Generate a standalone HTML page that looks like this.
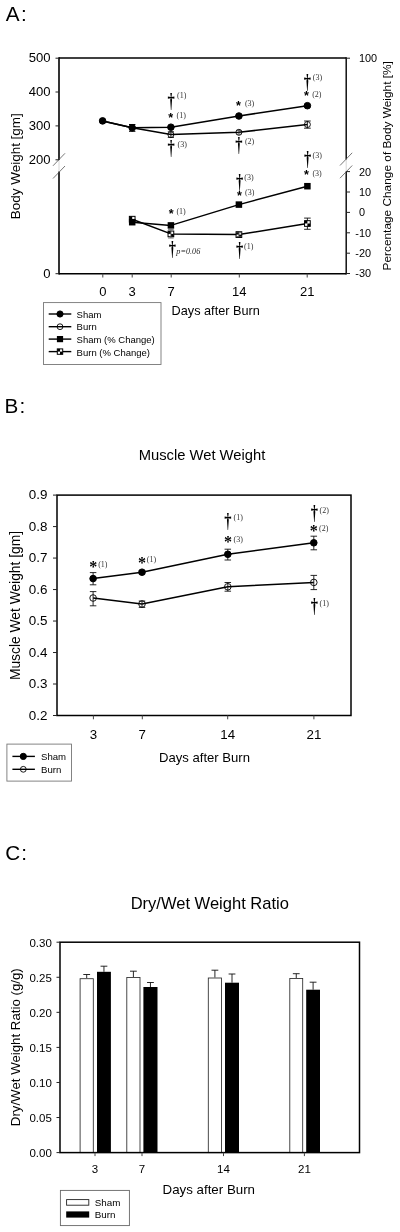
<!DOCTYPE html>
<html lang="en">
<head>
<meta charset="utf-8">
<title>Figure: Body weight, muscle wet weight and dry/wet weight ratio after burn</title>
<style>
html,body{margin:0;padding:0;background:#fff;}
body{width:400px;height:1232px;overflow:hidden;}
svg{display:block;filter:blur(0.4px);}
.sa{font-family:"Liberation Sans", sans-serif;}
.se{font-family:"Liberation Serif", serif;}
text{white-space:pre;}
</style>
</head>
<body>
<svg width="400" height="1232" viewBox="0 0 400 1232">
<rect x="0" y="0" width="400" height="1232" fill="#fff"/>
<text class="sa" x="5.70" y="21.31" font-size="20.7" text-anchor="start" fill="#000" letter-spacing="1.5">A:</text>
<line x1="59.00" y1="57.25" x2="59.00" y2="160.00" stroke="#000" stroke-width="1.6" stroke-linecap="butt"/>
<line x1="59.00" y1="171.50" x2="59.00" y2="274.45" stroke="#000" stroke-width="1.6" stroke-linecap="butt"/>
<line x1="59.00" y1="160.00" x2="59.00" y2="171.50" stroke="#bbb" stroke-width="0.6" stroke-linecap="butt"/>
<line x1="346.20" y1="57.25" x2="346.20" y2="159.50" stroke="#000" stroke-width="1.4" stroke-linecap="butt"/>
<line x1="346.20" y1="171.50" x2="346.20" y2="274.45" stroke="#000" stroke-width="1.4" stroke-linecap="butt"/>
<line x1="346.20" y1="159.50" x2="346.20" y2="171.50" stroke="#bbb" stroke-width="0.6" stroke-linecap="butt"/>
<line x1="59.00" y1="58.00" x2="346.20" y2="58.00" stroke="#000" stroke-width="1.5" stroke-linecap="butt"/>
<line x1="59.00" y1="273.70" x2="346.20" y2="273.70" stroke="#000" stroke-width="1.5" stroke-linecap="butt"/>
<line x1="53.00" y1="165.80" x2="65.00" y2="153.30" stroke="#555" stroke-width="0.8" stroke-linecap="butt"/>
<line x1="53.00" y1="178.50" x2="65.00" y2="166.00" stroke="#555" stroke-width="0.8" stroke-linecap="butt"/>
<line x1="340.00" y1="165.50" x2="352.20" y2="152.80" stroke="#555" stroke-width="0.8" stroke-linecap="butt"/>
<line x1="340.00" y1="178.20" x2="352.20" y2="165.50" stroke="#555" stroke-width="0.8" stroke-linecap="butt"/>
<line x1="55.50" y1="58.20" x2="59.00" y2="58.20" stroke="#222" stroke-width="1" stroke-linecap="butt"/>
<text class="sa" x="50.50" y="62.49" font-size="13.1" text-anchor="end" fill="#000">500</text>
<line x1="55.50" y1="92.00" x2="59.00" y2="92.00" stroke="#222" stroke-width="1" stroke-linecap="butt"/>
<text class="sa" x="50.50" y="96.29" font-size="13.1" text-anchor="end" fill="#000">400</text>
<line x1="55.50" y1="125.90" x2="59.00" y2="125.90" stroke="#222" stroke-width="1" stroke-linecap="butt"/>
<text class="sa" x="50.50" y="130.19" font-size="13.1" text-anchor="end" fill="#000">300</text>
<line x1="55.50" y1="159.80" x2="59.00" y2="159.80" stroke="#222" stroke-width="1" stroke-linecap="butt"/>
<text class="sa" x="50.50" y="164.09" font-size="13.1" text-anchor="end" fill="#000">200</text>
<line x1="55.50" y1="273.70" x2="59.00" y2="273.70" stroke="#222" stroke-width="1" stroke-linecap="butt"/>
<text class="sa" x="50.50" y="277.99" font-size="13.1" text-anchor="end" fill="#000">0</text>
<line x1="346.20" y1="58.20" x2="350.00" y2="58.20" stroke="#222" stroke-width="1" stroke-linecap="butt"/>
<text class="sa" x="359.00" y="62.10" font-size="10.9" text-anchor="start" fill="#000">100</text>
<line x1="346.20" y1="171.60" x2="350.00" y2="171.60" stroke="#222" stroke-width="1" stroke-linecap="butt"/>
<text class="sa" x="359.00" y="175.50" font-size="10.9" text-anchor="start" fill="#000">20</text>
<line x1="346.20" y1="192.00" x2="350.00" y2="192.00" stroke="#222" stroke-width="1" stroke-linecap="butt"/>
<text class="sa" x="359.00" y="195.90" font-size="10.9" text-anchor="start" fill="#000">10</text>
<line x1="346.20" y1="212.40" x2="350.00" y2="212.40" stroke="#222" stroke-width="1" stroke-linecap="butt"/>
<text class="sa" x="359.00" y="216.30" font-size="10.9" text-anchor="start" fill="#000">0</text>
<line x1="346.20" y1="232.80" x2="350.00" y2="232.80" stroke="#222" stroke-width="1" stroke-linecap="butt"/>
<text class="sa" x="355.30" y="236.70" font-size="10.9" text-anchor="start" fill="#000">-10</text>
<line x1="346.20" y1="253.20" x2="350.00" y2="253.20" stroke="#222" stroke-width="1" stroke-linecap="butt"/>
<text class="sa" x="355.30" y="257.10" font-size="10.9" text-anchor="start" fill="#000">-20</text>
<line x1="346.20" y1="273.50" x2="350.00" y2="273.50" stroke="#222" stroke-width="1" stroke-linecap="butt"/>
<text class="sa" x="355.30" y="277.40" font-size="10.9" text-anchor="start" fill="#000">-30</text>
<line x1="102.80" y1="273.70" x2="102.80" y2="277.50" stroke="#444" stroke-width="1" stroke-linecap="butt"/>
<text class="sa" x="102.80" y="296.35" font-size="13" text-anchor="middle" fill="#000">0</text>
<line x1="132.20" y1="273.70" x2="132.20" y2="277.50" stroke="#444" stroke-width="1" stroke-linecap="butt"/>
<text class="sa" x="132.20" y="296.35" font-size="13" text-anchor="middle" fill="#000">3</text>
<line x1="171.20" y1="273.70" x2="171.20" y2="277.50" stroke="#444" stroke-width="1" stroke-linecap="butt"/>
<text class="sa" x="171.20" y="296.35" font-size="13" text-anchor="middle" fill="#000">7</text>
<line x1="239.30" y1="273.70" x2="239.30" y2="277.50" stroke="#444" stroke-width="1" stroke-linecap="butt"/>
<text class="sa" x="239.30" y="296.35" font-size="13" text-anchor="middle" fill="#000">14</text>
<line x1="307.20" y1="273.70" x2="307.20" y2="277.50" stroke="#444" stroke-width="1" stroke-linecap="butt"/>
<text class="sa" x="307.20" y="296.35" font-size="13" text-anchor="middle" fill="#000">21</text>
<text class="sa" x="171.60" y="315.38" font-size="12.8" text-anchor="start" fill="#000" textLength="88.2" lengthAdjust="spacingAndGlyphs">Days after Burn</text>
<text class="sa" transform="translate(20.20,166.20) rotate(-90)" font-size="13.6" text-anchor="middle" fill="#000" textLength="106" lengthAdjust="spacingAndGlyphs">Body Weight [gm]</text>
<text class="sa" transform="translate(391.30,165.80) rotate(-90)" font-size="11.5" text-anchor="middle" fill="#000" textLength="209.4" lengthAdjust="spacingAndGlyphs">Percentage Change of Body Weight [%]</text>
<polyline points="102.60,120.90 132.20,127.80 170.90,134.60 238.90,132.30 307.40,124.50" fill="none" stroke="#000" stroke-width="1.5" stroke-linejoin="round"/>
<polyline points="102.60,120.90 132.20,127.80 170.90,127.20 238.90,116.00 307.40,105.70" fill="none" stroke="#000" stroke-width="1.5" stroke-linejoin="round"/>
<line x1="170.90" y1="131.80" x2="170.90" y2="137.40" stroke="#111" stroke-width="0.9" stroke-linecap="butt"/>
<line x1="167.80" y1="131.80" x2="174.00" y2="131.80" stroke="#111" stroke-width="0.9" stroke-linecap="butt"/>
<line x1="167.80" y1="137.40" x2="174.00" y2="137.40" stroke="#111" stroke-width="0.9" stroke-linecap="butt"/>
<line x1="307.40" y1="121.00" x2="307.40" y2="128.20" stroke="#111" stroke-width="0.9" stroke-linecap="butt"/>
<line x1="304.05" y1="121.00" x2="310.75" y2="121.00" stroke="#111" stroke-width="0.9" stroke-linecap="butt"/>
<line x1="304.05" y1="128.20" x2="310.75" y2="128.20" stroke="#111" stroke-width="0.9" stroke-linecap="butt"/>
<circle cx="170.90" cy="134.60" r="3.0" fill="none" stroke="#000" stroke-width="0.9"/>
<circle cx="238.90" cy="132.30" r="3.0" fill="none" stroke="#000" stroke-width="0.9"/>
<circle cx="307.40" cy="124.50" r="3.0" fill="none" stroke="#000" stroke-width="0.9"/>
<line x1="238.90" y1="130.40" x2="238.90" y2="134.20" stroke="#333" stroke-width="0.8" stroke-linecap="butt"/>
<line x1="236.60" y1="130.40" x2="241.20" y2="130.40" stroke="#333" stroke-width="0.8" stroke-linecap="butt"/>
<line x1="236.60" y1="134.20" x2="241.20" y2="134.20" stroke="#333" stroke-width="0.8" stroke-linecap="butt"/>
<line x1="132.20" y1="124.50" x2="132.20" y2="131.30" stroke="#000" stroke-width="1.0" stroke-linecap="butt"/>
<line x1="129.00" y1="124.50" x2="135.40" y2="124.50" stroke="#000" stroke-width="1.0" stroke-linecap="butt"/>
<line x1="129.00" y1="131.30" x2="135.40" y2="131.30" stroke="#000" stroke-width="1.0" stroke-linecap="butt"/>
<circle cx="102.60" cy="120.90" r="3.3" fill="#000" stroke="#000" stroke-width="1"/>
<circle cx="132.20" cy="127.80" r="3.3" fill="#000" stroke="#000" stroke-width="1"/>
<circle cx="170.90" cy="127.20" r="3.3" fill="#000" stroke="#000" stroke-width="1"/>
<circle cx="238.90" cy="116.00" r="3.3" fill="#000" stroke="#000" stroke-width="1"/>
<circle cx="307.40" cy="105.70" r="3.3" fill="#000" stroke="#000" stroke-width="1"/>
<polyline points="132.20,219.20 170.90,233.90 238.90,234.60 307.40,223.50" fill="none" stroke="#000" stroke-width="1.5" stroke-linejoin="round"/>
<polyline points="132.20,222.20 170.90,225.40 238.90,204.60 307.40,186.20" fill="none" stroke="#000" stroke-width="1.5" stroke-linejoin="round"/>
<line x1="307.40" y1="218.10" x2="307.40" y2="229.30" stroke="#111" stroke-width="0.9" stroke-linecap="butt"/>
<line x1="304.10" y1="218.10" x2="310.70" y2="218.10" stroke="#111" stroke-width="0.9" stroke-linecap="butt"/>
<line x1="304.10" y1="229.30" x2="310.70" y2="229.30" stroke="#111" stroke-width="0.9" stroke-linecap="butt"/>
<rect x="129.35" y="216.35" width="5.70" height="5.70" fill="#fff" stroke="#000" stroke-width="1"/>
<rect x="129.35" y="216.35" width="2.85" height="2.85" fill="#000" stroke="none" stroke-width="1"/>
<rect x="132.20" y="219.20" width="2.85" height="2.85" fill="#000" stroke="none" stroke-width="1"/>
<rect x="168.05" y="231.05" width="5.70" height="5.70" fill="#fff" stroke="#000" stroke-width="1"/>
<rect x="168.05" y="231.05" width="2.85" height="2.85" fill="#000" stroke="none" stroke-width="1"/>
<rect x="170.90" y="233.90" width="2.85" height="2.85" fill="#000" stroke="none" stroke-width="1"/>
<rect x="236.05" y="231.75" width="5.70" height="5.70" fill="#fff" stroke="#000" stroke-width="1"/>
<rect x="236.05" y="231.75" width="2.85" height="2.85" fill="#000" stroke="none" stroke-width="1"/>
<rect x="238.90" y="234.60" width="2.85" height="2.85" fill="#000" stroke="none" stroke-width="1"/>
<rect x="304.55" y="220.65" width="5.70" height="5.70" fill="#fff" stroke="#000" stroke-width="1"/>
<rect x="304.55" y="220.65" width="2.85" height="2.85" fill="#000" stroke="none" stroke-width="1"/>
<rect x="307.40" y="223.50" width="2.85" height="2.85" fill="#000" stroke="none" stroke-width="1"/>
<line x1="238.90" y1="232.70" x2="238.90" y2="236.50" stroke="#444" stroke-width="0.8" stroke-linecap="butt"/>
<line x1="236.10" y1="232.70" x2="241.70" y2="232.70" stroke="#444" stroke-width="0.8" stroke-linecap="butt"/>
<line x1="236.10" y1="236.50" x2="241.70" y2="236.50" stroke="#444" stroke-width="0.8" stroke-linecap="butt"/>
<line x1="170.90" y1="229.60" x2="170.90" y2="238.00" stroke="#555" stroke-width="0.8" stroke-linecap="butt"/>
<line x1="168.10" y1="229.60" x2="173.70" y2="229.60" stroke="#555" stroke-width="0.8" stroke-linecap="butt"/>
<line x1="168.10" y1="238.00" x2="173.70" y2="238.00" stroke="#555" stroke-width="0.8" stroke-linecap="butt"/>
<rect x="128.95" y="218.95" width="6.50" height="6.50" fill="#000" stroke="none" stroke-width="1"/>
<rect x="167.65" y="222.15" width="6.50" height="6.50" fill="#000" stroke="none" stroke-width="1"/>
<rect x="235.65" y="201.35" width="6.50" height="6.50" fill="#000" stroke="none" stroke-width="1"/>
<rect x="304.15" y="182.95" width="6.50" height="6.50" fill="#000" stroke="none" stroke-width="1"/>
<text class="se" transform="translate(171.20,92.50) scale(1,1.499)" x="-3.61" y="10.08" font-size="14.5" font-weight="bold" fill="#000">†</text>
<text class="se" x="177.00" y="98.34" font-size="8.0" text-anchor="start" fill="#333">(1)</text>
<text class="sa" x="168.17" y="121.59" font-size="12.5" font-weight="bold" fill="#000">*</text>
<text class="se" x="176.60" y="118.14" font-size="8.0" text-anchor="start" fill="#333">(1)</text>
<text class="se" transform="translate(171.20,139.90) scale(1,1.499)" x="-3.61" y="10.08" font-size="14.5" font-weight="bold" fill="#000">†</text>
<text class="se" x="177.60" y="147.34" font-size="8.0" text-anchor="start" fill="#333">(3)</text>
<text class="sa" x="235.88" y="110.49" font-size="12.5" font-weight="bold" fill="#000">*</text>
<text class="se" x="244.90" y="106.14" font-size="8.0" text-anchor="start" fill="#333">(3)</text>
<text class="se" transform="translate(238.90,136.50) scale(1,1.499)" x="-3.61" y="10.08" font-size="14.5" font-weight="bold" fill="#000">†</text>
<text class="se" x="244.90" y="144.24" font-size="8.0" text-anchor="start" fill="#333">(2)</text>
<text class="se" transform="translate(307.30,74.30) scale(1,1.499)" x="-3.61" y="10.08" font-size="14.5" font-weight="bold" fill="#000">†</text>
<text class="se" x="312.80" y="79.74" font-size="8.0" text-anchor="start" fill="#333">(3)</text>
<text class="sa" x="304.07" y="100.09" font-size="12.5" font-weight="bold" fill="#000">*</text>
<text class="se" x="312.20" y="97.24" font-size="8.0" text-anchor="start" fill="#333">(2)</text>
<text class="se" transform="translate(307.50,151.10) scale(1,1.499)" x="-3.61" y="10.08" font-size="14.5" font-weight="bold" fill="#000">†</text>
<text class="se" x="312.60" y="157.54" font-size="8.0" text-anchor="start" fill="#333">(3)</text>
<text class="sa" x="304.07" y="178.89" font-size="12.5" font-weight="bold" fill="#000">*</text>
<text class="se" x="312.40" y="175.54" font-size="8.0" text-anchor="start" fill="#333">(3)</text>
<text class="se" transform="translate(239.70,174.10) scale(1,1.499)" x="-3.61" y="10.08" font-size="14.5" font-weight="bold" fill="#000">†</text>
<text class="se" x="244.30" y="180.34" font-size="8.0" text-anchor="start" fill="#333">(3)</text>
<text class="sa" x="236.88" y="200.49" font-size="12.5" font-weight="bold" fill="#000">*</text>
<text class="se" x="245.00" y="195.24" font-size="8.0" text-anchor="start" fill="#333">(3)</text>
<text class="se" transform="translate(239.70,241.70) scale(1,1.499)" x="-3.61" y="10.08" font-size="14.5" font-weight="bold" fill="#000">†</text>
<text class="se" x="244.00" y="248.94" font-size="8.0" text-anchor="start" fill="#333">(1)</text>
<text class="sa" x="168.67" y="217.59" font-size="12.5" font-weight="bold" fill="#000">*</text>
<text class="se" x="176.40" y="213.94" font-size="8.0" text-anchor="start" fill="#333">(1)</text>
<text class="se" transform="translate(172.40,240.90) scale(1,1.499)" x="-3.61" y="10.08" font-size="14.5" font-weight="bold" fill="#000">†</text>
<text class="se" x="176.3" y="254.3" font-size="8.2" font-style="italic" fill="#222">p=0.06</text>
<rect x="43.50" y="302.60" width="117.50" height="61.90" fill="#fff" stroke="#777" stroke-width="0.9"/>
<line x1="48.70" y1="314.00" x2="71.30" y2="314.00" stroke="#000" stroke-width="1.4" stroke-linecap="butt"/>
<line x1="48.70" y1="326.70" x2="71.30" y2="326.70" stroke="#000" stroke-width="1.4" stroke-linecap="butt"/>
<line x1="48.70" y1="339.10" x2="71.30" y2="339.10" stroke="#000" stroke-width="1.4" stroke-linecap="butt"/>
<line x1="48.70" y1="351.60" x2="71.30" y2="351.60" stroke="#000" stroke-width="1.4" stroke-linecap="butt"/>
<circle cx="60.00" cy="314.00" r="3.1" fill="#000" stroke="#000" stroke-width="1"/>
<circle cx="60.00" cy="326.70" r="2.9" fill="none" stroke="#000" stroke-width="0.9"/>
<rect x="56.90" y="336.00" width="6.20" height="6.20" fill="#000" stroke="none" stroke-width="1"/>
<rect x="57.30" y="348.90" width="5.40" height="5.40" fill="#fff" stroke="#000" stroke-width="1"/>
<rect x="57.30" y="348.90" width="2.70" height="2.70" fill="#000" stroke="none" stroke-width="1"/>
<rect x="60.00" y="351.60" width="2.70" height="2.70" fill="#000" stroke="none" stroke-width="1"/>
<text class="sa" x="76.60" y="317.80" font-size="9.5" text-anchor="start" fill="#000">Sham</text>
<text class="sa" x="76.60" y="330.40" font-size="9.5" text-anchor="start" fill="#000">Burn</text>
<text class="sa" x="76.60" y="343.00" font-size="9.5" text-anchor="start" fill="#000">Sham (% Change)</text>
<text class="sa" x="76.60" y="355.50" font-size="9.5" text-anchor="start" fill="#000">Burn (% Change)</text>
<text class="sa" x="4.40" y="413.31" font-size="20.7" text-anchor="start" fill="#000" letter-spacing="1.2">B:</text>
<text class="sa" x="202.00" y="460.28" font-size="14.75" text-anchor="middle" fill="#000">Muscle Wet Weight</text>
<rect x="57.00" y="495.10" width="294.00" height="220.40" fill="none" stroke="#000" stroke-width="1.5"/>
<line x1="53.00" y1="495.10" x2="57.00" y2="495.10" stroke="#222" stroke-width="1" stroke-linecap="butt"/>
<text class="sa" x="47.40" y="499.20" font-size="13.4" text-anchor="end" fill="#000">0.9</text>
<line x1="53.00" y1="526.59" x2="57.00" y2="526.59" stroke="#222" stroke-width="1" stroke-linecap="butt"/>
<text class="sa" x="47.40" y="530.68" font-size="13.4" text-anchor="end" fill="#000">0.8</text>
<line x1="53.00" y1="558.07" x2="57.00" y2="558.07" stroke="#222" stroke-width="1" stroke-linecap="butt"/>
<text class="sa" x="47.40" y="562.17" font-size="13.4" text-anchor="end" fill="#000">0.7</text>
<line x1="53.00" y1="589.56" x2="57.00" y2="589.56" stroke="#222" stroke-width="1" stroke-linecap="butt"/>
<text class="sa" x="47.40" y="593.65" font-size="13.4" text-anchor="end" fill="#000">0.6</text>
<line x1="53.00" y1="621.04" x2="57.00" y2="621.04" stroke="#222" stroke-width="1" stroke-linecap="butt"/>
<text class="sa" x="47.40" y="625.14" font-size="13.4" text-anchor="end" fill="#000">0.5</text>
<line x1="53.00" y1="652.53" x2="57.00" y2="652.53" stroke="#222" stroke-width="1" stroke-linecap="butt"/>
<text class="sa" x="47.40" y="656.63" font-size="13.4" text-anchor="end" fill="#000">0.4</text>
<line x1="53.00" y1="684.01" x2="57.00" y2="684.01" stroke="#222" stroke-width="1" stroke-linecap="butt"/>
<text class="sa" x="47.40" y="688.11" font-size="13.4" text-anchor="end" fill="#000">0.3</text>
<line x1="53.00" y1="715.50" x2="57.00" y2="715.50" stroke="#222" stroke-width="1" stroke-linecap="butt"/>
<text class="sa" x="47.40" y="719.60" font-size="13.4" text-anchor="end" fill="#000">0.2</text>
<line x1="93.40" y1="715.50" x2="93.40" y2="719.30" stroke="#444" stroke-width="1" stroke-linecap="butt"/>
<text class="sa" x="93.40" y="738.76" font-size="13.3" text-anchor="middle" fill="#000">3</text>
<line x1="142.30" y1="715.50" x2="142.30" y2="719.30" stroke="#444" stroke-width="1" stroke-linecap="butt"/>
<text class="sa" x="142.30" y="738.76" font-size="13.3" text-anchor="middle" fill="#000">7</text>
<line x1="227.70" y1="715.50" x2="227.70" y2="719.30" stroke="#444" stroke-width="1" stroke-linecap="butt"/>
<text class="sa" x="227.70" y="738.76" font-size="13.3" text-anchor="middle" fill="#000">14</text>
<line x1="313.90" y1="715.50" x2="313.90" y2="719.30" stroke="#444" stroke-width="1" stroke-linecap="butt"/>
<text class="sa" x="313.90" y="738.76" font-size="13.3" text-anchor="middle" fill="#000">21</text>
<text class="sa" x="204.50" y="762.09" font-size="13.1" text-anchor="middle" fill="#000">Days after Burn</text>
<text class="sa" transform="translate(20.20,605.50) rotate(-90)" font-size="13.9" text-anchor="middle" fill="#000" textLength="149.2" lengthAdjust="spacingAndGlyphs">Muscle Wet Weight [gm]</text>
<polyline points="93.10,578.60 142.00,572.20 227.80,554.30 313.80,542.80" fill="none" stroke="#000" stroke-width="1.5" stroke-linejoin="round"/>
<polyline points="93.10,598.00 142.00,604.00 227.80,586.80 313.80,582.40" fill="none" stroke="#000" stroke-width="1.5" stroke-linejoin="round"/>
<line x1="93.10" y1="572.60" x2="93.10" y2="584.80" stroke="#111" stroke-width="0.9" stroke-linecap="butt"/>
<line x1="89.85" y1="572.60" x2="96.35" y2="572.60" stroke="#111" stroke-width="0.9" stroke-linecap="butt"/>
<line x1="89.85" y1="584.80" x2="96.35" y2="584.80" stroke="#111" stroke-width="0.9" stroke-linecap="butt"/>
<line x1="142.00" y1="570.60" x2="142.00" y2="573.80" stroke="#111" stroke-width="0.9" stroke-linecap="butt"/>
<line x1="138.75" y1="570.60" x2="145.25" y2="570.60" stroke="#111" stroke-width="0.9" stroke-linecap="butt"/>
<line x1="138.75" y1="573.80" x2="145.25" y2="573.80" stroke="#111" stroke-width="0.9" stroke-linecap="butt"/>
<line x1="227.80" y1="549.20" x2="227.80" y2="560.00" stroke="#111" stroke-width="0.9" stroke-linecap="butt"/>
<line x1="224.55" y1="549.20" x2="231.05" y2="549.20" stroke="#111" stroke-width="0.9" stroke-linecap="butt"/>
<line x1="224.55" y1="560.00" x2="231.05" y2="560.00" stroke="#111" stroke-width="0.9" stroke-linecap="butt"/>
<line x1="313.80" y1="536.20" x2="313.80" y2="549.80" stroke="#111" stroke-width="0.9" stroke-linecap="butt"/>
<line x1="310.55" y1="536.20" x2="317.05" y2="536.20" stroke="#111" stroke-width="0.9" stroke-linecap="butt"/>
<line x1="310.55" y1="549.80" x2="317.05" y2="549.80" stroke="#111" stroke-width="0.9" stroke-linecap="butt"/>
<line x1="93.10" y1="591.60" x2="93.10" y2="605.80" stroke="#111" stroke-width="0.9" stroke-linecap="butt"/>
<line x1="89.85" y1="591.60" x2="96.35" y2="591.60" stroke="#111" stroke-width="0.9" stroke-linecap="butt"/>
<line x1="89.85" y1="605.80" x2="96.35" y2="605.80" stroke="#111" stroke-width="0.9" stroke-linecap="butt"/>
<line x1="142.00" y1="601.00" x2="142.00" y2="607.40" stroke="#111" stroke-width="0.9" stroke-linecap="butt"/>
<line x1="138.75" y1="601.00" x2="145.25" y2="601.00" stroke="#111" stroke-width="0.9" stroke-linecap="butt"/>
<line x1="138.75" y1="607.40" x2="145.25" y2="607.40" stroke="#111" stroke-width="0.9" stroke-linecap="butt"/>
<line x1="227.80" y1="582.50" x2="227.80" y2="591.20" stroke="#111" stroke-width="0.9" stroke-linecap="butt"/>
<line x1="224.55" y1="582.50" x2="231.05" y2="582.50" stroke="#111" stroke-width="0.9" stroke-linecap="butt"/>
<line x1="224.55" y1="591.20" x2="231.05" y2="591.20" stroke="#111" stroke-width="0.9" stroke-linecap="butt"/>
<line x1="313.80" y1="575.40" x2="313.80" y2="589.60" stroke="#111" stroke-width="0.9" stroke-linecap="butt"/>
<line x1="310.55" y1="575.40" x2="317.05" y2="575.40" stroke="#111" stroke-width="0.9" stroke-linecap="butt"/>
<line x1="310.55" y1="589.60" x2="317.05" y2="589.60" stroke="#111" stroke-width="0.9" stroke-linecap="butt"/>
<circle cx="93.10" cy="598.00" r="3.3" fill="none" stroke="#000" stroke-width="0.9"/>
<circle cx="142.00" cy="604.00" r="3.3" fill="none" stroke="#000" stroke-width="0.9"/>
<circle cx="227.80" cy="586.80" r="3.3" fill="none" stroke="#000" stroke-width="0.9"/>
<circle cx="313.80" cy="582.40" r="3.3" fill="none" stroke="#000" stroke-width="0.9"/>
<circle cx="93.10" cy="578.60" r="3.3" fill="#000" stroke="#000" stroke-width="1"/>
<circle cx="142.00" cy="572.20" r="3.3" fill="#000" stroke="#000" stroke-width="1"/>
<circle cx="227.80" cy="554.30" r="3.3" fill="#000" stroke="#000" stroke-width="1"/>
<circle cx="313.80" cy="542.80" r="3.3" fill="#000" stroke="#000" stroke-width="1"/>
<text class="se" x="89.32" y="572.06" font-size="16.0" font-weight="bold" fill="#000">*</text>
<text class="se" x="98.20" y="566.74" font-size="8.0" text-anchor="start" fill="#333">(1)</text>
<text class="se" x="138.02" y="567.76" font-size="16.0" font-weight="bold" fill="#000">*</text>
<text class="se" x="146.80" y="561.54" font-size="8.0" text-anchor="start" fill="#333">(1)</text>
<text class="se" x="224.02" y="547.36" font-size="16.0" font-weight="bold" fill="#000">*</text>
<text class="se" x="233.50" y="541.74" font-size="8.0" text-anchor="start" fill="#333">(3)</text>
<text class="se" x="309.72" y="536.36" font-size="16.0" font-weight="bold" fill="#000">*</text>
<text class="se" x="319.00" y="531.14" font-size="8.0" text-anchor="start" fill="#333">(2)</text>
<text class="se" transform="translate(227.80,513.30) scale(1,1.499)" x="-3.61" y="10.08" font-size="14.5" font-weight="bold" fill="#000">†</text>
<text class="se" x="233.60" y="520.24" font-size="8.0" text-anchor="start" fill="#333">(1)</text>
<text class="se" transform="translate(314.30,505.30) scale(1,1.499)" x="-3.61" y="10.08" font-size="14.5" font-weight="bold" fill="#000">†</text>
<text class="se" x="319.60" y="513.34" font-size="8.0" text-anchor="start" fill="#333">(2)</text>
<text class="se" transform="translate(314.30,597.50) scale(1,1.499)" x="-3.61" y="10.08" font-size="14.5" font-weight="bold" fill="#000">†</text>
<text class="se" x="319.60" y="605.74" font-size="8.0" text-anchor="start" fill="#333">(1)</text>
<rect x="6.90" y="744.10" width="64.60" height="37.00" fill="#fff" stroke="#777" stroke-width="0.9"/>
<line x1="12.40" y1="756.40" x2="34.90" y2="756.40" stroke="#000" stroke-width="1.4" stroke-linecap="butt"/>
<line x1="12.40" y1="769.30" x2="34.90" y2="769.30" stroke="#000" stroke-width="1.4" stroke-linecap="butt"/>
<circle cx="23.30" cy="756.40" r="3.1" fill="#000" stroke="#000" stroke-width="1"/>
<circle cx="23.30" cy="769.30" r="2.9" fill="none" stroke="#000" stroke-width="0.9"/>
<text class="sa" x="41.00" y="759.84" font-size="9.6" text-anchor="start" fill="#000">Sham</text>
<text class="sa" x="41.00" y="772.74" font-size="9.6" text-anchor="start" fill="#000">Burn</text>
<text class="sa" x="5.30" y="859.91" font-size="20.7" text-anchor="start" fill="#000" letter-spacing="1.0">C:</text>
<text class="sa" x="209.80" y="909.22" font-size="16.55" text-anchor="middle" fill="#000">Dry/Wet Weight Ratio</text>
<line x1="86.70" y1="974.50" x2="86.70" y2="978.20" stroke="#111" stroke-width="0.9" stroke-linecap="butt"/>
<line x1="83.30" y1="974.50" x2="90.10" y2="974.50" stroke="#111" stroke-width="0.9" stroke-linecap="butt"/>
<rect x="80.10" y="978.70" width="13.20" height="173.90" fill="#fff" stroke="#2a2a2a" stroke-width="0.85"/>
<line x1="103.95" y1="966.20" x2="103.95" y2="971.80" stroke="#111" stroke-width="0.9" stroke-linecap="butt"/>
<line x1="100.55" y1="966.20" x2="107.35" y2="966.20" stroke="#111" stroke-width="0.9" stroke-linecap="butt"/>
<rect x="97.00" y="971.80" width="13.90" height="180.80" fill="#000" stroke="none" stroke-width="1"/>
<line x1="133.40" y1="971.20" x2="133.40" y2="977.00" stroke="#111" stroke-width="0.9" stroke-linecap="butt"/>
<line x1="130.00" y1="971.20" x2="136.80" y2="971.20" stroke="#111" stroke-width="0.9" stroke-linecap="butt"/>
<rect x="126.80" y="977.50" width="13.20" height="175.10" fill="#fff" stroke="#2a2a2a" stroke-width="0.85"/>
<line x1="150.45" y1="982.50" x2="150.45" y2="987.00" stroke="#111" stroke-width="0.9" stroke-linecap="butt"/>
<line x1="147.05" y1="982.50" x2="153.85" y2="982.50" stroke="#111" stroke-width="0.9" stroke-linecap="butt"/>
<rect x="143.40" y="987.00" width="14.10" height="165.60" fill="#000" stroke="none" stroke-width="1"/>
<line x1="214.90" y1="970.20" x2="214.90" y2="977.50" stroke="#111" stroke-width="0.9" stroke-linecap="butt"/>
<line x1="211.50" y1="970.20" x2="218.30" y2="970.20" stroke="#111" stroke-width="0.9" stroke-linecap="butt"/>
<rect x="208.30" y="978.00" width="13.20" height="174.60" fill="#fff" stroke="#2a2a2a" stroke-width="0.85"/>
<line x1="232.00" y1="974.00" x2="232.00" y2="982.70" stroke="#111" stroke-width="0.9" stroke-linecap="butt"/>
<line x1="228.60" y1="974.00" x2="235.40" y2="974.00" stroke="#111" stroke-width="0.9" stroke-linecap="butt"/>
<rect x="225.00" y="982.70" width="14.00" height="169.90" fill="#000" stroke="none" stroke-width="1"/>
<line x1="296.25" y1="973.70" x2="296.25" y2="978.00" stroke="#111" stroke-width="0.9" stroke-linecap="butt"/>
<line x1="292.85" y1="973.70" x2="299.65" y2="973.70" stroke="#111" stroke-width="0.9" stroke-linecap="butt"/>
<rect x="289.80" y="978.50" width="12.90" height="174.10" fill="#fff" stroke="#2a2a2a" stroke-width="0.85"/>
<line x1="313.10" y1="982.20" x2="313.10" y2="989.70" stroke="#111" stroke-width="0.9" stroke-linecap="butt"/>
<line x1="309.70" y1="982.20" x2="316.50" y2="982.20" stroke="#111" stroke-width="0.9" stroke-linecap="butt"/>
<rect x="306.20" y="989.70" width="13.80" height="162.90" fill="#000" stroke="none" stroke-width="1"/>
<rect x="60.00" y="942.20" width="299.50" height="210.40" fill="none" stroke="#000" stroke-width="1.5"/>
<line x1="56.50" y1="942.20" x2="60.00" y2="942.20" stroke="#222" stroke-width="1" stroke-linecap="butt"/>
<text class="sa" x="51.80" y="946.62" font-size="11.5" text-anchor="end" fill="#000">0.30</text>
<line x1="56.50" y1="977.27" x2="60.00" y2="977.27" stroke="#222" stroke-width="1" stroke-linecap="butt"/>
<text class="sa" x="51.80" y="981.68" font-size="11.5" text-anchor="end" fill="#000">0.25</text>
<line x1="56.50" y1="1012.33" x2="60.00" y2="1012.33" stroke="#222" stroke-width="1" stroke-linecap="butt"/>
<text class="sa" x="51.80" y="1016.75" font-size="11.5" text-anchor="end" fill="#000">0.20</text>
<line x1="56.50" y1="1047.40" x2="60.00" y2="1047.40" stroke="#222" stroke-width="1" stroke-linecap="butt"/>
<text class="sa" x="51.80" y="1051.82" font-size="11.5" text-anchor="end" fill="#000">0.15</text>
<line x1="56.50" y1="1082.47" x2="60.00" y2="1082.47" stroke="#222" stroke-width="1" stroke-linecap="butt"/>
<text class="sa" x="51.80" y="1086.88" font-size="11.5" text-anchor="end" fill="#000">0.10</text>
<line x1="56.50" y1="1117.53" x2="60.00" y2="1117.53" stroke="#222" stroke-width="1" stroke-linecap="butt"/>
<text class="sa" x="51.80" y="1121.95" font-size="11.5" text-anchor="end" fill="#000">0.05</text>
<line x1="56.50" y1="1152.60" x2="60.00" y2="1152.60" stroke="#222" stroke-width="1" stroke-linecap="butt"/>
<text class="sa" x="51.80" y="1157.02" font-size="11.5" text-anchor="end" fill="#000">0.00</text>
<line x1="95.00" y1="1152.60" x2="95.00" y2="1156.10" stroke="#444" stroke-width="1" stroke-linecap="butt"/>
<text class="sa" x="95.00" y="1172.92" font-size="11.5" text-anchor="middle" fill="#000">3</text>
<line x1="142.00" y1="1152.60" x2="142.00" y2="1156.10" stroke="#444" stroke-width="1" stroke-linecap="butt"/>
<text class="sa" x="142.00" y="1172.92" font-size="11.5" text-anchor="middle" fill="#000">7</text>
<line x1="223.50" y1="1152.60" x2="223.50" y2="1156.10" stroke="#444" stroke-width="1" stroke-linecap="butt"/>
<text class="sa" x="223.50" y="1172.92" font-size="11.5" text-anchor="middle" fill="#000">14</text>
<line x1="304.40" y1="1152.60" x2="304.40" y2="1156.10" stroke="#444" stroke-width="1" stroke-linecap="butt"/>
<text class="sa" x="304.40" y="1172.92" font-size="11.5" text-anchor="middle" fill="#000">21</text>
<text class="sa" x="208.80" y="1193.76" font-size="13.3" text-anchor="middle" fill="#000">Days after Burn</text>
<text class="sa" transform="translate(20.00,1047.20) rotate(-90)" font-size="13.5" text-anchor="middle" fill="#000" textLength="158.0" lengthAdjust="spacingAndGlyphs">Dry/Wet Weight Ratio (g/g)</text>
<rect x="60.40" y="1190.40" width="69.00" height="35.20" fill="#fff" stroke="#666" stroke-width="0.9"/>
<rect x="66.60" y="1199.60" width="22.20" height="5.60" fill="#fff" stroke="#222" stroke-width="0.9"/>
<rect x="66.20" y="1211.40" width="23.00" height="6.20" fill="#000" stroke="none" stroke-width="1"/>
<text class="sa" x="94.80" y="1205.91" font-size="9.8" text-anchor="start" fill="#000">Sham</text>
<text class="sa" x="94.80" y="1217.81" font-size="9.8" text-anchor="start" fill="#000">Burn</text>
</svg>
</body>
</html>
